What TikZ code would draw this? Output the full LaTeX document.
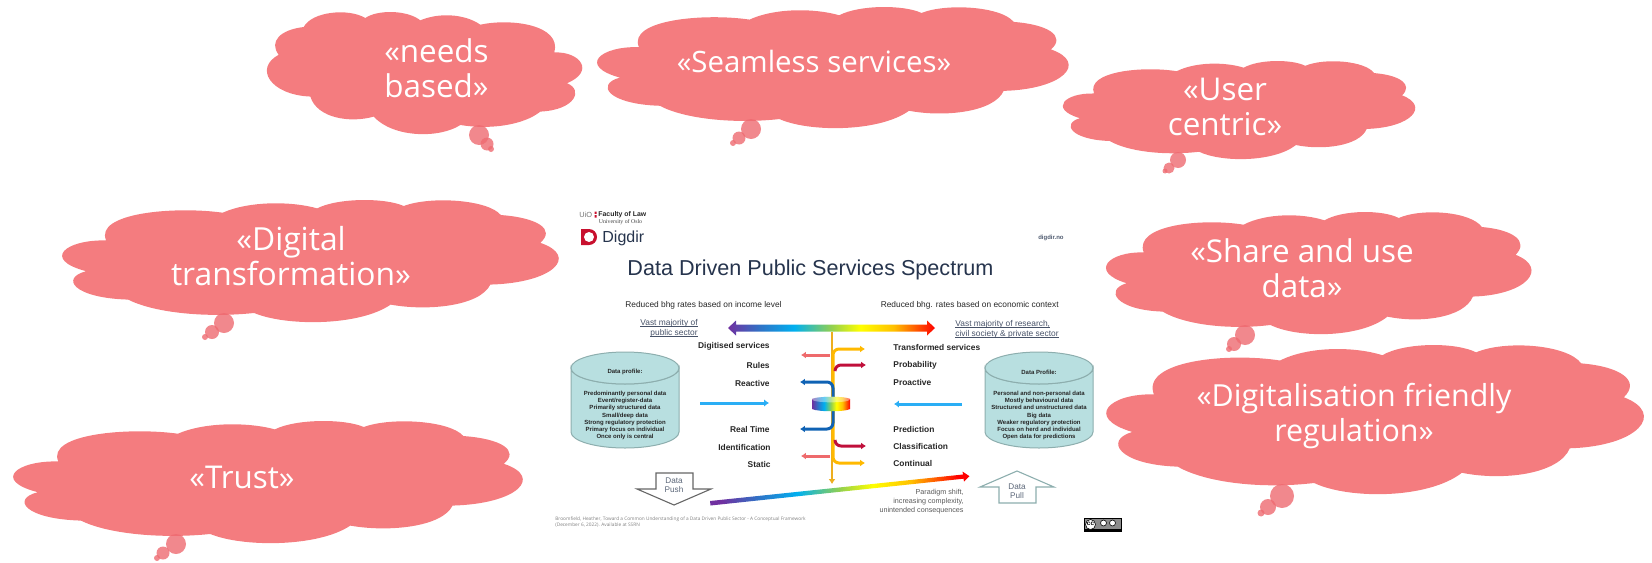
\documentclass[tikz,border=0pt]{standalone}
\usepackage{fontspec}
\setmainfont{Liberation Sans}
\newfontfamily\cloudfont{Open Sans}
\newfontfamily\seriffont{Liberation Serif}
\usetikzlibrary{arrows.meta}
\definecolor{cloudred}{HTML}{F47C7F}
\definecolor{tailred}{HTML}{EE6A70}
\definecolor{slate}{HTML}{26344D}
\definecolor{cylfill}{HTML}{B8DFE0}
\definecolor{cyledge}{HTML}{8DAEAE}
\definecolor{rbpurple}{HTML}{7030A0}
\definecolor{rbblue}{HTML}{2E75C8}
\definecolor{rbcyan}{HTML}{00B0F0}
\definecolor{rbgreen}{HTML}{92D050}
\definecolor{rbyellow}{HTML}{FFFF00}
\definecolor{rborange}{HTML}{FFC000}
\definecolor{rbred}{HTML}{FF0000}
\definecolor{lineorange}{HTML}{EDAE1E}
\definecolor{lineyellow}{HTML}{FFB900}
\definecolor{linecoral}{HTML}{EE6A6C}
\definecolor{linered}{HTML}{C00F3A}
\definecolor{lineblue}{HTML}{0F62B4}
\definecolor{linecyan}{HTML}{2AAEF5}
\definecolor{digred}{HTML}{C8102E}
\pgfdeclarehorizontalshading{rainbow}{100bp}{color(0bp)=(rbpurple); color(25bp)=(rbpurple); color(33bp)=(rbblue); color(41bp)=(rbcyan); color(50bp)=(rbgreen); color(57bp)=(rbyellow); color(65bp)=(rborange); color(75bp)=(rbred); color(100bp)=(rbred)}
\tikzset{
  cloudtext/.style={text=white,align=center,inner sep=0pt,font=\cloudfont\fontsize{15.7}{17.5}\selectfont},
  tailbubble/.style={fill=tailred,fill opacity=.8},
  boldlabel/.style={inner sep=0pt,font=\bfseries\fontsize{4.2}{5}\selectfont,text=black!85},
  plainlabel/.style={inner sep=0pt,font=\fontsize{4.18}{5}\selectfont,text=black!85},
  slatelabel/.style={inner sep=0pt,align=left,font=\fontsize{4.2}{5}\selectfont,text=slate!85},
  cylhead/.style={inner sep=0pt,font=\bfseries\fontsize{3}{3.65}\selectfont,text=black!85},
  cyllist/.style={inner sep=0pt,align=center,font=\bfseries\fontsize{3}{3.65}\selectfont,text=black!85},
  cylbody/.style={fill=cylfill,draw=cyledge,line width=.5pt},
  blockarrow/.style={fill=white,line width=.55pt,line join=miter},
  blocktext/.style={inner sep=0pt,align=center,font=\fontsize{4.1}{4.75}\selectfont,text=slate!75},
  branch/.style={line width=1.5pt,rounded corners=3pt},
  wide/.style={line width=1.5pt,-{Latex[length=2.4pt,width=3.6pt]}},
}
\newcommand{\puffpath}{%
  (160,82) .. controls (185,35) and (295,25) .. (345,55)
  .. controls (380,30) and (470,30) .. (510,62)
  .. controls (560,40) and (640,40) .. (690,75)
  .. controls (780,55) and (935,75) .. (912,158)
  .. controls (990,155) and (1035,215) .. (950,250)
  .. controls (1000,270) and (975,330) .. (870,335)
  .. controls (820,375) and (720,390) .. (630,375)
  .. controls (570,415) and (430,415) .. (370,350)
  .. controls (300,370) and (200,355) .. (180,290)
  .. controls (60,285) and (10,205) .. (85,165)
  .. controls (55,125) and (90,90) .. (160,82) -- cycle}
\newcommand{\puff}[4]{\fill[cloudred,shift={(#1,#2)},xscale=#3/945,yscale=#4/365,shift={(-53,-37)}] \puffpath;}
\newcommand{\mirrorpuff}[4]{\fill[cloudred,shift={(#1+#3,#2)},xscale=-#3/945,yscale=#4/365,shift={(-53,-37)}] \puffpath;}
\newcommand{\tail}[9]{%
  \fill[tailbubble] (#1,#2) circle[radius=#3];
  \fill[tailbubble] (#4,#5) circle[radius=#6];
  \fill[tailbubble] (#7,#8) circle[radius=#9];}
\newcommand{\rulednote}[1]{\setbox0=\hbox{#1}\rlap{\rule[-.6pt]{\wd0}{.22pt}}\box0}
\begin{document}
\begin{tikzpicture}[x=0.5pt,y=-0.5pt]
\useasboundingbox (0,0) rectangle (1652,562);
\clip (0,0) rectangle (1652,562);
% clouds
\puff{268}{12}{315}{122}
\tail{479}{135}{10}{487}{144}{6.5}{491}{149}{3}
\node[cloudtext] (needs) at (436.5,68.5) {«needs\\based»};
\mirrorpuff{596}{7}{471}{121}
\tail{751}{129}{10}{739}{138}{6.5}{733}{143}{3}
\node[cloudtext,font=\cloudfont\fontsize{14.7}{17}\selectfont] (seamless) at (814,61.5) {«Seamless services»};
\mirrorpuff{1062}{61}{352}{98}
\tail{1178}{160}{8}{1169}{168}{5.5}{1165}{171}{2.5}
\node[cloudtext] (user) at (1225,107) {«User\\centric»};
\mirrorpuff{61}{200}{496}{122}
\tail{224}{323}{10}{212}{332}{7}{205}{337}{3}
\node[cloudtext,font=\cloudfont\fontsize{15.9}{17.5}\selectfont] (digital) at (291,256) {«Digital\\transformation»};
\mirrorpuff{1105}{212}{425}{122}
\tail{1245}{335}{10}{1234}{344}{7}{1229}{349}{3}
\node[cloudtext] (share) at (1302,268) {«Share and use\\data»};
\mirrorpuff{1105}{345}{537}{149}
\tail{1282}{496}{12}{1268}{507}{8}{1261}{513}{3.5}
\node[cloudtext,font=\cloudfont\fontsize{15.2}{17.5}\selectfont] (regulation) at (1354,416.5) {«Digitalisation friendly\\regulation»};
\mirrorpuff{12}{421}{509}{122}
\tail{176}{544}{10}{163}{553}{6.5}{157}{558}{3}
\node[cloudtext] (trust) at (242,477.5) {«Trust»};
% logos
\node[inner sep=0pt,anchor=west,font=\fontsize{3.7}{4}\selectfont,text=black!55] (uio) at (579,214.5) {UiO};
\fill[digred] (594.5,211.5) rectangle (596.5,213.8) (594.5,215.2) rectangle (596.5,217.5);
\node[inner sep=0pt,anchor=west,font=\bfseries\fontsize{3.45}{4}\selectfont,text=black!85] (law) at (598,214.5) {Faculty of Law};
\node[inner sep=0pt,anchor=west,font=\seriffont\fontsize{2.9}{4}\selectfont,text=black!75] (oslo) at (598.5,222) {University of Oslo};
\fill[digred] (581,229) -- (589,229) arc[start angle=-90,end angle=90,radius=8] -- (581,245) -- cycle;
\fill[white] (589,237) circle[radius=5];
\node[inner sep=0pt,anchor=west,font=\fontsize{8}{9}\selectfont,text=slate] (digdir) at (602,238) {Digdir};
\node[inner sep=0pt,anchor=east,font=\bfseries\fontsize{3}{4}\selectfont,text=slate!80] (digdirno) at (1064,237.5) {digdir.no};
\node[inner sep=0pt,anchor=west,font=\fontsize{10.8}{13}\selectfont,text=slate] (title) at (627,270) {Data Driven Public Services Spectrum};
% top labels
\node[plainlabel,anchor=west] (leftrate) at (625,305) {Reduced bhg rates based on income level};
\node[plainlabel,anchor=east] (rightrate) at (1059,305.5) {Reduced bhg. rates based on economic context};
\node[slatelabel,anchor=east,align=right] (vastl) at (698,328.5) {\rulednote{Vast majority of}\\\rulednote{public sector}};
\node[slatelabel,anchor=west] (vastr) at (955,329.5) {\rulednote{Vast majority of research,}\\\rulednote{civil society \& private sector}};
% rainbow arrow
\shade[shading=rainbow] (728,328) -- (736,320.5) -- (736,324.5) -- (927,324.5) -- (927,320.5) -- (935,328) -- (927,335.5) -- (927,331.5) -- (736,331.5) -- (736,335.5) -- cycle;
% centre coordinates
\coordinate (mainTop) at (832,332);
\coordinate (mainEnd) at (832,484);
\draw[line width=1.2pt,lineorange,-{Latex[length=2.4pt,width=3.4pt]}] (mainTop) -- (mainEnd);
\coordinate (yA) at (865,349); \coordinate (yB) at (865,463);
\coordinate (yJ) at (833,349); \coordinate (yK) at (833,463);
\draw[branch,lineyellow,{Latex[length=2.4pt,width=3.4pt]}-{Latex[length=2.4pt,width=3.4pt]}] (yA) -- (yJ) -- (yK) -- (yB);
\coordinate (rA) at (866,365); \coordinate (rB) at (866,446);
\coordinate (rJ) at (835,365); \coordinate (rK) at (835,446);
\coordinate (rS) at (835,370); \coordinate (rT) at (835,441);
\draw[branch,linered,-{Latex[length=2.4pt,width=3.4pt]}] (rS) -- (rJ) -- (rA);
\draw[branch,linered,-{Latex[length=2.4pt,width=3.4pt]}] (rT) -- (rK) -- (rB);
\coordinate (cA) at (801,355); \coordinate (cB) at (801,456);
\coordinate (cS) at (830,355); \coordinate (cT) at (830,456);
\draw[branch,linecoral,-{Latex[length=2.4pt,width=3.4pt]}] (cS) -- (cA);
\draw[branch,linecoral,-{Latex[length=2.4pt,width=3.4pt]}] (cT) -- (cB);
\coordinate (bA) at (800,382); \coordinate (bB) at (800,429);
\coordinate (bJ) at (833,382); \coordinate (bK) at (833,429);
\draw[branch,lineblue,{Latex[length=2.4pt,width=3.4pt]}-{Latex[length=2.4pt,width=3.4pt]}] (bA) -- (bJ) -- (bK) -- (bB);
% hub
\shade[shading=rainbow] (812,399) -- (812,409) .. controls (818,412) and (845,412) .. (850,409) -- (850,399) .. controls (845,396) and (818,396) .. (812,399) -- cycle;
\fill[white,fill opacity=.4] (831,399.5) ellipse[x radius=19,y radius=2.8];
% branch labels
\node[boldlabel,anchor=east] (l1) at (770,346) {Digitised services};
\node[boldlabel,anchor=east] (l2) at (770,365) {Rules};
\node[boldlabel,anchor=east] (l3) at (770,383) {Reactive};
\node[boldlabel,anchor=east] (l4) at (770,429) {Real Time};
\node[boldlabel,anchor=east] (l5) at (771,447) {Identification};
\node[boldlabel,anchor=east] (l6) at (771,464) {Static};
\node[boldlabel,anchor=west] (r1) at (893,347) {Transformed services};
\node[boldlabel,anchor=west] (r2) at (893,365) {Probability};
\node[boldlabel,anchor=west] (r3) at (893,382) {Proactive};
\node[boldlabel,anchor=west] (r4) at (893,429) {Prediction};
\node[boldlabel,anchor=west] (r5) at (893,446) {Classification};
\node[boldlabel,anchor=west] (r6) at (893,463) {Continual};
% cylinders
\path[cylbody] (571,368) -- (571,432) arc[start angle=180,end angle=0,x radius=54,y radius=16] -- (679,368) arc[start angle=0,end angle=180,x radius=54,y radius=16] -- cycle;
\path[cylbody] (625,368) ellipse[x radius=54,y radius=16];
\node[cylhead] (dp1) at (625,372) {Data profile:};
\node[cyllist] (list1) at (625,415.5) {Predominantly personal data\\Event/register-data\\Primarily structured data\\Small/deep data\\Strong regulatory protection\\Primary focus on individual\\Once only is central};
\path[cylbody] (985,368) -- (985,432) arc[start angle=180,end angle=0,x radius=54,y radius=16] -- (1093,368) arc[start angle=0,end angle=180,x radius=54,y radius=16] -- cycle;
\path[cylbody] (1039,368) ellipse[x radius=54,y radius=16];
\node[cylhead] (dp2) at (1039,372) {Data Profile:};
\node[cyllist] (list2) at (1039,415.5) {Personal and non-personal data\\Mostly behavioural data\\Structured and unstructured data\\Big data\\Weaker regulatory protection\\Focus on herd and individual\\Open data for predictions};
% cyan arrows
\coordinate (cyL1) at (700,403); \coordinate (cyL2) at (769,403);
\coordinate (cyR1) at (962,404); \coordinate (cyR2) at (894,404);
\draw[wide,linecyan] (cyL1) -- (cyL2);
\draw[wide,linecyan] (cyR1) -- (cyR2);
% block arrows
\draw[blockarrow,draw=black!60] (656,473) -- (693,473) -- (693,489) -- (711,489) -- (674,505) -- (637,489) -- (656,489) -- cycle;
\node[blocktext] (push) at (674,485) {Data\\Push};
\draw[blockarrow,draw=cyledge] (1017,471) -- (1054,487) -- (1036,487) -- (1036,503) -- (999,503) -- (999,487) -- (980,487) -- cycle;
\node[blocktext] (pull) at (1017,491) {Data\\Pull};
% tilted rainbow arrow
\shade[shading=rainbow,shading angle=6] (710,501) -- (963,474.5) -- (962.5,471.5) -- (969.5,476.2) -- (964,481.5) -- (963.5,478.7) -- (710.5,505.5) -- cycle;
\node[inner sep=0pt,align=right,anchor=east,font=\fontsize{3.6}{4.5}\selectfont,text=black!65] (shift) at (964,502) {Paradigm shift,\\increasing complexity,\\unintended consequences};
\node[inner sep=0pt,align=left,anchor=west,font=\cloudfont\fontsize{2.38}{3.15}\selectfont,text=black!50] (cite) at (555,522) {Broomfield, Heather, Toward a Common Understanding of a Data Driven Public Sector - A Conceptual Framework\\(December 6, 2022). Available at SSRN};
% licence badge
\fill[black!45] (1084.5,518.5) rectangle (1121,531.5);
\fill[black] (1084.5,529) rectangle (1121,531.5);
\draw[black,line width=.25pt] (1084.5,518.5) rectangle (1121,531.5);
\filldraw[draw=black,fill=white,line width=.3pt] (1090.5,524.5) circle[radius=5];
\node[inner sep=0pt,font=\bfseries\fontsize{3.2}{3.2}\selectfont] (cc) at (1090.5,524) {cc};
\filldraw[draw=black,fill=white,line width=.3pt] (1103.5,523) circle[radius=3];
\filldraw[draw=black,fill=white,line width=.3pt] (1112.5,523) circle[radius=3];
\end{tikzpicture}
\end{document}
